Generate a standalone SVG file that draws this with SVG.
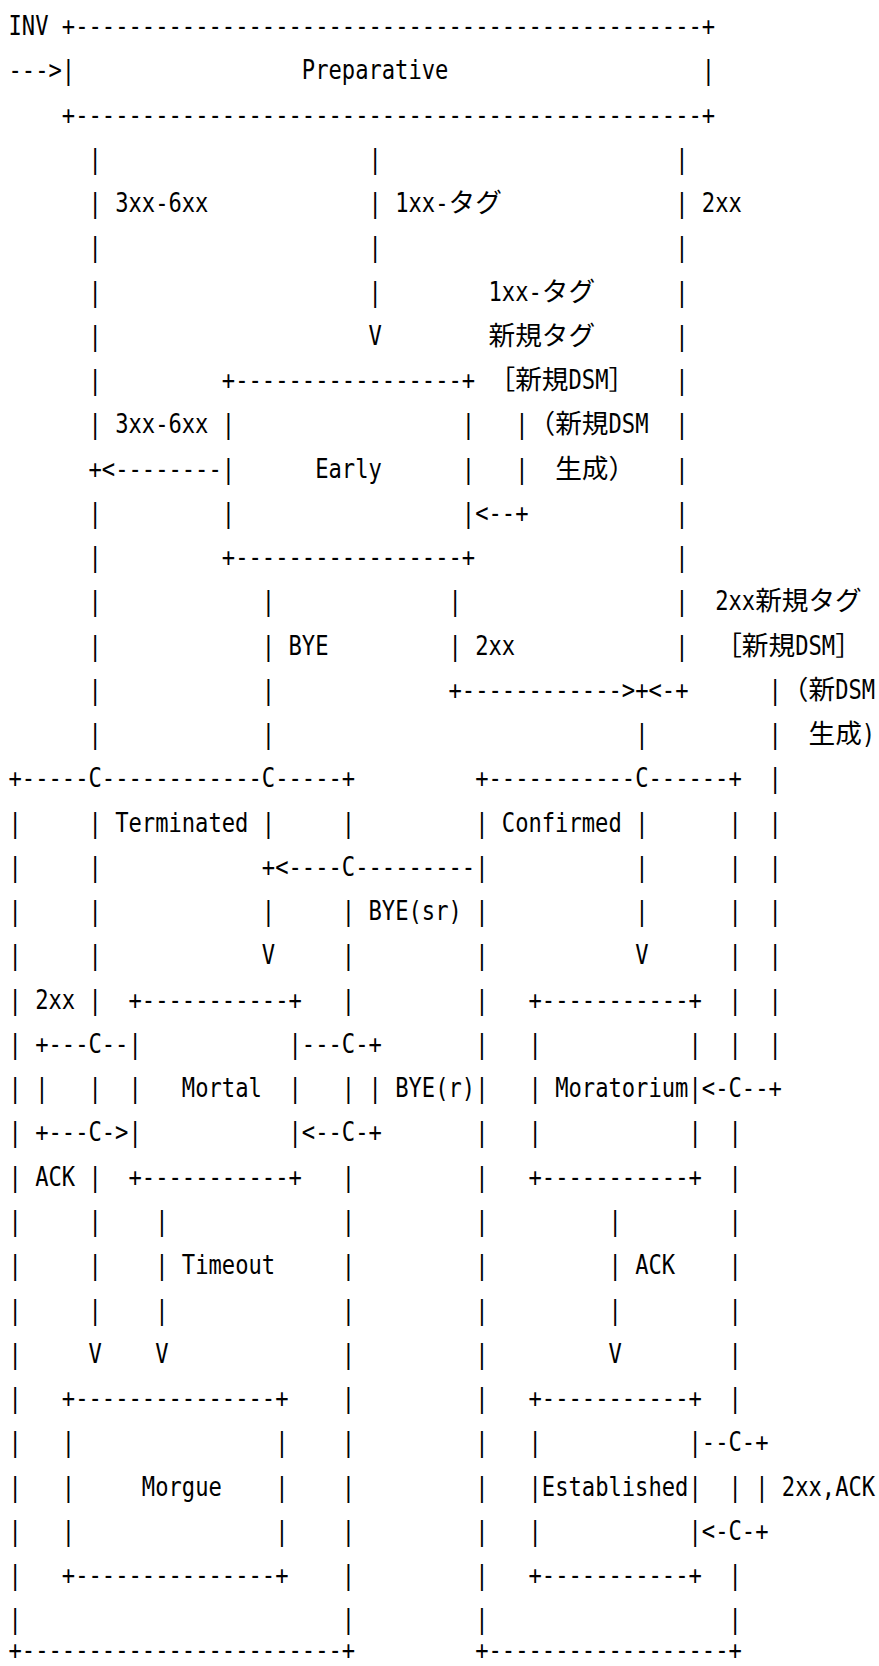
<svg xmlns="http://www.w3.org/2000/svg" width="879" height="1666" viewBox="0 0 879 1666">
<style>
.a{font-family:"DejaVu Sans Mono","Liberation Mono",monospace;font-size:26.67px;fill:#000;white-space:pre}
.j{font-family:"Noto Sans CJK JP","Noto Sans CJK SC",sans-serif;font-size:26.67px;fill:#000}
</style>
<rect width="879" height="1666" fill="#fff"/>
<g class="a" transform="scale(0.83039 1)">
<g id="nodes">
<g id="node-preparative">
<text x="74.46" y="35">+</text><text x="90.52" y="35" textLength="754.66" lengthAdjust="spacingAndGlyphs">-----------------------------------------------</text><text x="845.18" y="35">+</text>
<text x="74.46" y="79.26">|</text><text x="363.48" y="79.26">Preparative</text><text x="845.18" y="79.26">|</text>
<text x="74.46" y="123.52">+</text><text x="90.52" y="123.52" textLength="754.66" lengthAdjust="spacingAndGlyphs">-----------------------------------------------</text><text x="845.18" y="123.52">+</text>
</g>
<g id="node-early">
<text x="267.14" y="389.08">+</text><text x="283.2" y="389.08" textLength="272.96" lengthAdjust="spacingAndGlyphs">-----------------</text><text x="556.16" y="389.08">+</text>
<text x="267.14" y="433.34">|</text><text x="556.16" y="433.34">|</text>
<text x="267.14" y="477.6">|</text><text x="379.54" y="477.6">Early</text><text x="556.16" y="477.6">|</text>
<text x="267.14" y="521.86">|</text><text x="556.16" y="521.86">|</text>
<text x="267.14" y="566.12">+</text><text x="283.2" y="566.12" textLength="272.96" lengthAdjust="spacingAndGlyphs">-----------------</text><text x="556.16" y="566.12">+</text>
</g>
<g id="node-terminated">
<text x="10.24" y="787.42">+-----C</text><text x="122.63" y="787.42" textLength="192.68" lengthAdjust="spacingAndGlyphs">------------</text><text x="315.31" y="787.42">C-----+</text>
<text x="10.24" y="831.68">|</text><text x="138.69" y="831.68">Terminated</text><text x="411.65" y="831.68">|</text>
<text x="10.24" y="875.94">|</text><text x="411.65" y="875.94">C</text>
<text x="10.24" y="920.2">|</text><text x="411.65" y="920.2">|</text>
<text x="10.24" y="964.46">|</text><text x="411.65" y="964.46">|</text>
<text x="10.24" y="1008.72">|</text><text x="411.65" y="1008.72">|</text>
<text x="10.24" y="1052.98">|</text><text x="411.65" y="1052.98">C</text>
<text x="10.24" y="1097.24">|</text><text x="411.65" y="1097.24">|</text>
<text x="10.24" y="1141.5">|</text><text x="411.65" y="1141.5">C</text>
<text x="10.24" y="1185.76">|</text><text x="411.65" y="1185.76">|</text>
<text x="10.24" y="1230.02">|</text><text x="411.65" y="1230.02">|</text>
<text x="10.24" y="1274.28">|</text><text x="411.65" y="1274.28">|</text>
<text x="10.24" y="1318.54">|</text><text x="411.65" y="1318.54">|</text>
<text x="10.24" y="1362.8">|</text><text x="411.65" y="1362.8">|</text>
<text x="10.24" y="1407.06">|</text><text x="411.65" y="1407.06">|</text>
<text x="10.24" y="1451.32">|</text><text x="411.65" y="1451.32">|</text>
<text x="10.24" y="1495.58">|</text><text x="411.65" y="1495.58">|</text>
<text x="10.24" y="1539.84">|</text><text x="411.65" y="1539.84">|</text>
<text x="10.24" y="1584.1">|</text><text x="411.65" y="1584.1">|</text>
<text x="10.24" y="1628.36">|</text><text x="411.65" y="1628.36">|</text>
<text x="10.24" y="1659">+</text><text x="26.29" y="1659" textLength="385.36" lengthAdjust="spacingAndGlyphs">------------------------</text><text x="411.65" y="1659">+</text>
</g>
<g id="node-confirmed">
<text x="572.22" y="787.42">+</text><text x="588.28" y="787.42" textLength="176.62" lengthAdjust="spacingAndGlyphs">-----------</text><text x="764.9" y="787.42">C------+</text>
<text x="572.22" y="831.68">|</text><text x="604.33" y="831.68">Confirmed</text><text x="877.3" y="831.68">|</text>
<text x="572.22" y="875.94">|</text><text x="877.3" y="875.94">|</text>
<text x="572.22" y="920.2">|</text><text x="877.3" y="920.2">|</text>
<text x="572.22" y="964.46">|</text><text x="877.3" y="964.46">|</text>
<text x="572.22" y="1008.72">|</text><text x="877.3" y="1008.72">|</text>
<text x="572.22" y="1052.98">|</text><text x="877.3" y="1052.98">|</text>
<text x="572.22" y="1097.24">|</text><text x="877.3" y="1097.24">C</text>
<text x="572.22" y="1141.5">|</text><text x="877.3" y="1141.5">|</text>
<text x="572.22" y="1185.76">|</text><text x="877.3" y="1185.76">|</text>
<text x="572.22" y="1230.02">|</text><text x="877.3" y="1230.02">|</text>
<text x="572.22" y="1274.28">|</text><text x="877.3" y="1274.28">|</text>
<text x="572.22" y="1318.54">|</text><text x="877.3" y="1318.54">|</text>
<text x="572.22" y="1362.8">|</text><text x="877.3" y="1362.8">|</text>
<text x="572.22" y="1407.06">|</text><text x="877.3" y="1407.06">|</text>
<text x="572.22" y="1451.32">|</text><text x="877.3" y="1451.32">C</text>
<text x="572.22" y="1495.58">|</text><text x="877.3" y="1495.58">|</text>
<text x="572.22" y="1539.84">|</text><text x="877.3" y="1539.84">C</text>
<text x="572.22" y="1584.1">|</text><text x="877.3" y="1584.1">|</text>
<text x="572.22" y="1628.36">|</text><text x="877.3" y="1628.36">|</text>
<text x="572.22" y="1659">+</text><text x="588.28" y="1659" textLength="289.02" lengthAdjust="spacingAndGlyphs">------------------</text><text x="877.3" y="1659">+</text>
</g>
<g id="node-mortal">
<text x="154.75" y="1008.72">+</text><text x="170.8" y="1008.72" textLength="176.62" lengthAdjust="spacingAndGlyphs">-----------</text><text x="347.43" y="1008.72">+</text>
<text x="154.75" y="1052.98">|</text><text x="347.43" y="1052.98">|</text>
<text x="154.75" y="1097.24">|</text><text x="218.97" y="1097.24">Mortal</text><text x="347.43" y="1097.24">|</text>
<text x="154.75" y="1141.5">|</text><text x="347.43" y="1141.5">|</text>
<text x="154.75" y="1185.76">+</text><text x="170.8" y="1185.76" textLength="176.62" lengthAdjust="spacingAndGlyphs">-----------</text><text x="347.43" y="1185.76">+</text>
</g>
<g id="node-moratorium">
<text x="636.45" y="1008.72">+</text><text x="652.5" y="1008.72" textLength="176.62" lengthAdjust="spacingAndGlyphs">-----------</text><text x="829.13" y="1008.72">+</text>
<text x="636.45" y="1052.98">|</text><text x="829.13" y="1052.98">|</text>
<text x="636.45" y="1097.24">|</text><text x="668.56" y="1097.24">Moratorium</text><text x="829.13" y="1097.24">|</text>
<text x="636.45" y="1141.5">|</text><text x="829.13" y="1141.5">|</text>
<text x="636.45" y="1185.76">+</text><text x="652.5" y="1185.76" textLength="176.62" lengthAdjust="spacingAndGlyphs">-----------</text><text x="829.13" y="1185.76">+</text>
</g>
<g id="node-morgue">
<text x="74.46" y="1407.06">+</text><text x="90.52" y="1407.06" textLength="240.85" lengthAdjust="spacingAndGlyphs">---------------</text><text x="331.37" y="1407.06">+</text>
<text x="74.46" y="1451.32">|</text><text x="331.37" y="1451.32">|</text>
<text x="74.46" y="1495.58">|</text><text x="170.8" y="1495.58">Morgue</text><text x="331.37" y="1495.58">|</text>
<text x="74.46" y="1539.84">|</text><text x="331.37" y="1539.84">|</text>
<text x="74.46" y="1584.1">+</text><text x="90.52" y="1584.1" textLength="240.85" lengthAdjust="spacingAndGlyphs">---------------</text><text x="331.37" y="1584.1">+</text>
</g>
<g id="node-established">
<text x="636.45" y="1407.06">+</text><text x="652.5" y="1407.06" textLength="176.62" lengthAdjust="spacingAndGlyphs">-----------</text><text x="829.13" y="1407.06">+</text>
<text x="636.45" y="1451.32">|</text><text x="829.13" y="1451.32">|</text>
<text x="636.45" y="1495.58">|</text><text x="652.5" y="1495.58">Established</text><text x="829.13" y="1495.58">|</text>
<text x="636.45" y="1539.84">|</text><text x="829.13" y="1539.84">|</text>
<text x="636.45" y="1584.1">+</text><text x="652.5" y="1584.1" textLength="176.62" lengthAdjust="spacingAndGlyphs">-----------</text><text x="829.13" y="1584.1">+</text>
</g>
</g>
<g id="connectors">
<g id="conn-inv">
<text x="10.24" y="35">INV</text><text x="10.24" y="79.26">---&gt;</text>
</g>
<g id="conn-prep-3xx">
<text x="106.58" y="167.78">|</text>
<text x="106.58" y="212.04">|</text><text x="138.69" y="212.04">3xx-6xx</text>
<text x="106.58" y="256.3">|</text>
<text x="106.58" y="300.56">|</text>
<text x="106.58" y="344.82">|</text>
<text x="106.58" y="389.08">|</text>
<text x="106.58" y="433.34">|</text>
<text x="106.58" y="521.86">|</text>
<text x="106.58" y="566.12">|</text>
<text x="106.58" y="610.38">|</text>
<text x="106.58" y="654.64">|</text>
<text x="106.58" y="698.9">|</text>
<text x="106.58" y="743.16">|</text>
<text x="106.58" y="831.68">|</text>
<text x="106.58" y="875.94">|</text>
<text x="106.58" y="920.2">|</text>
<text x="106.58" y="964.46">|</text>
<text x="106.58" y="1008.72">|</text>
<text x="106.58" y="1097.24">|</text>
<text x="106.58" y="1185.76">|</text>
<text x="106.58" y="1230.02">|</text>
<text x="106.58" y="1274.28">|</text>
<text x="106.58" y="1318.54">|</text>
<text x="106.58" y="1362.8">V</text>
</g>
<g id="conn-early-3xx">
<text x="138.69" y="433.34">3xx-6xx</text>
<text x="106.58" y="477.6">+&lt;--------</text>
</g>
<g id="conn-prep-1xx">
<text x="443.77" y="167.78">|</text>
<text x="443.77" y="212.04">|</text><text x="475.88" y="212.04">1xx-</text>
<text x="443.77" y="256.3">|</text>
<text x="443.77" y="300.56">|</text>
<text x="443.77" y="344.82">V</text>
</g>
<g id="conn-early-1xx-newtag">
<text x="588.28" y="300.56">1xx-</text>
<text x="684.62" y="389.08">DSM</text>
<text x="620.39" y="433.34">|</text><text x="732.79" y="433.34">DSM</text>
<text x="620.39" y="477.6">|</text>
<text x="572.22" y="521.86">&lt;--+</text>
</g>
<g id="conn-prep-2xx">
<text x="813.07" y="167.78">|</text>
<text x="813.07" y="212.04">|</text><text x="845.18" y="212.04">2xx</text>
<text x="813.07" y="256.3">|</text>
<text x="813.07" y="300.56">|</text>
<text x="813.07" y="344.82">|</text>
<text x="813.07" y="389.08">|</text>
<text x="813.07" y="433.34">|</text>
<text x="813.07" y="477.6">|</text>
<text x="813.07" y="521.86">|</text>
<text x="813.07" y="566.12">|</text>
<text x="813.07" y="610.38">|</text>
<text x="813.07" y="654.64">|</text>
<text x="780.96" y="698.9">&lt;-+</text>
</g>
<g id="conn-early-2xx">
<text x="540.11" y="610.38">|</text>
<text x="540.11" y="654.64">|</text><text x="572.22" y="654.64">2xx</text>
<text x="540.11" y="698.9">+</text><text x="556.16" y="698.9" textLength="192.68" lengthAdjust="spacingAndGlyphs">------------</text><text x="748.84" y="698.9">&gt;+</text>
<text x="764.9" y="743.16">|</text>
</g>
<g id="conn-early-bye">
<text x="315.31" y="610.38">|</text>
<text x="315.31" y="654.64">|</text><text x="347.43" y="654.64">BYE</text>
<text x="315.31" y="698.9">|</text>
<text x="315.31" y="743.16">|</text>
<text x="315.31" y="831.68">|</text>
<text x="315.31" y="875.94">+</text>
<text x="315.31" y="920.2">|</text>
<text x="315.31" y="964.46">V</text>
</g>
<g id="conn-confirmed-bye-sr">
<text x="331.37" y="875.94">&lt;----</text><text x="427.71" y="875.94" textLength="144.51" lengthAdjust="spacingAndGlyphs">---------</text>
<text x="443.77" y="920.2">BYE(sr)</text>
</g>
<g id="conn-confirmed-moratorium">
<text x="764.9" y="831.68">|</text>
<text x="764.9" y="875.94">|</text>
<text x="764.9" y="920.2">|</text>
<text x="764.9" y="964.46">V</text>
</g>
<g id="conn-mortal-2xx-ack">
<text x="42.35" y="1008.72">2xx</text>
<text x="42.35" y="1052.98">+---C--</text>
<text x="42.35" y="1097.24">|</text>
<text x="42.35" y="1141.5">+---C-&gt;</text>
<text x="42.35" y="1185.76">ACK</text>
</g>
<g id="conn-mortal-bye-r">
<text x="363.48" y="1052.98">---</text><text x="427.71" y="1052.98">-+</text>
<text x="443.77" y="1097.24">|</text><text x="475.88" y="1097.24">BYE(r)</text>
<text x="363.48" y="1141.5">&lt;--</text><text x="427.71" y="1141.5">-+</text>
</g>
<g id="conn-2xx-newtag">
<text x="861.24" y="610.38">2xx</text>
<text x="957.58" y="654.64">DSM</text>
<text x="925.47" y="698.9">|</text><text x="1005.75" y="698.9">DSM</text>
<text x="925.47" y="743.16">|</text><text x="1037.87" y="743.16">)</text>
<text x="925.47" y="787.42">|</text>
<text x="925.47" y="831.68">|</text>
<text x="925.47" y="875.94">|</text>
<text x="925.47" y="920.2">|</text>
<text x="925.47" y="964.46">|</text>
<text x="925.47" y="1008.72">|</text>
<text x="925.47" y="1052.98">|</text>
<text x="845.18" y="1097.24">&lt;-</text><text x="893.35" y="1097.24">--+</text>
</g>
<g id="conn-mortal-timeout">
<text x="186.86" y="1230.02">|</text>
<text x="186.86" y="1274.28">|</text><text x="218.97" y="1274.28">Timeout</text>
<text x="186.86" y="1318.54">|</text>
<text x="186.86" y="1362.8">V</text>
</g>
<g id="conn-moratorium-ack">
<text x="732.79" y="1230.02">|</text>
<text x="732.79" y="1274.28">|</text><text x="764.9" y="1274.28">ACK</text>
<text x="732.79" y="1318.54">|</text>
<text x="732.79" y="1362.8">V</text>
</g>
<g id="conn-established-loop">
<text x="845.18" y="1451.32">--</text><text x="893.35" y="1451.32">-+</text>
<text x="909.41" y="1495.58">|</text><text x="941.52" y="1495.58">2xx,ACK</text>
<text x="845.18" y="1539.84">&lt;-</text><text x="893.35" y="1539.84">-+</text>
</g>
</g>
</g>
<g id="labels-ja" class="j">
<text x="448.5" y="212.04">タグ</text>
<text x="541.83" y="300.56">タグ</text>
<text x="488.5" y="344.82">新規タグ</text>
<text x="488.5" y="389.08">［新規</text><text x="608.5" y="389.08">］</text>
<text x="528.5" y="433.34">（新規</text>
<text x="555.17" y="477.6">生成）</text>
<text x="755.17" y="610.38">新規タグ</text>
<text x="715.17" y="654.64">［新規</text><text x="835.17" y="654.64">］</text>
<text x="781.83" y="698.9">（新</text>
<text x="808.5" y="743.16">生成</text>
</g>
</svg>
